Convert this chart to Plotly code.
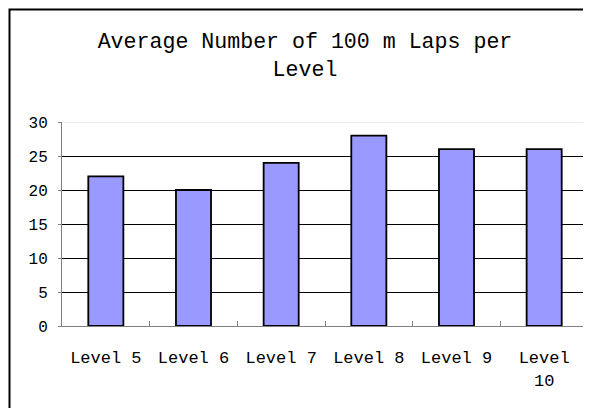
import plotly.graph_objects as go

categories = ["Level 5", "Level 6", "Level 7", "Level 8", "Level 9", "Level 10"]
tick_labels = ["Level 5", "Level 6", "Level 7", "Level 8", "Level 9", "Level<br>10"]
laps = [22, 20, 24, 28, 26, 26]
y_ticks = [0, 5, 10, 15, 20, 25, 30]

# page body has an 8px margin; figure coordinates = window coordinates - 8
OFF = 8
W, H = 591 - OFF, 408 - OFF
L, R, T, B = 62 - OFF, 3, 122 - OFF, 82
pw, ph = W - L - R, H - T - B

def px(x):
    return (x - OFF - L) / pw

def py(y):
    return (H - B - (y - OFF)) / ph

mono = "Liberation Mono"

fig = go.Figure(go.Bar(
    x=categories, y=laps, width=0.4,
    marker=dict(color="#9999FF", line=dict(color="black", width=1.8)),
))

fig.update_layout(
    width=W, height=H,
    margin=dict(l=L, r=R, t=T, b=B),
    paper_bgcolor="white", plot_bgcolor="white",
    showlegend=False,
    title=dict(
        text="Average Number of 100 m Laps per<br>Level",
        font=dict(family=mono, size=21.6, color="black"),
        x=(305 - OFF) / W, xanchor="center", xref="container",
        y=1 - (48 - OFF) / H, yanchor="top", yref="container",
    ),
    xaxis=dict(
        tickmode="array", tickvals=categories, ticktext=tick_labels,
        tickfont=dict(family=mono, size=17, color="black"),
        showline=True, linecolor="#808080", linewidth=1,
        ticks="inside", tickson="boundaries", ticklen=5, tickcolor="#808080",
        showgrid=False, ticklabelstandoff=16,
    ),
    yaxis=dict(
        range=[0, 30], tickvals=y_ticks,
        tickfont=dict(family=mono, size=16, color="black"),
        showline=True, linecolor="#808080", linewidth=1,
        ticks="outside", ticklen=3, tickcolor="#808080",
        showgrid=True, gridcolor="black", gridwidth=1,
        zeroline=False, ticklabelstandoff=7,
    ),
)

fig.add_hline(y=30, line=dict(color="#d9d9d9", width=1), layer="above")

fig.add_shape(
    type="rect", xref="paper", yref="paper",
    x0=px(9.5), x1=px(600), y0=py(420), y1=py(9.5),
    line=dict(color="black", width=2), fillcolor="rgba(0,0,0,0)",
)

fig.write_html("out.html")
